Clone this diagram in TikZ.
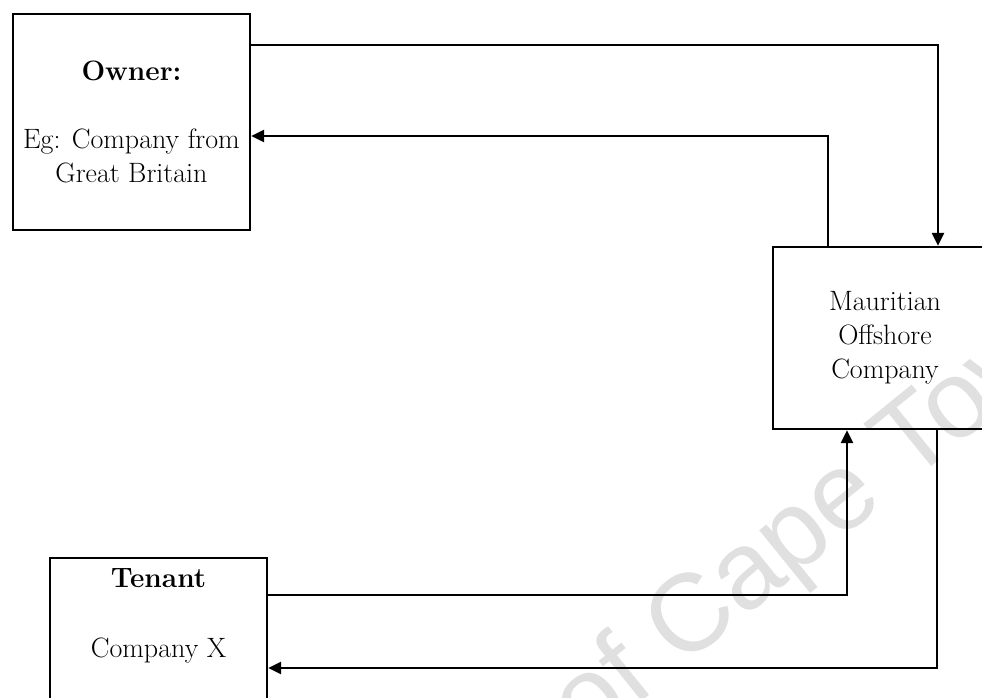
\documentclass[tikz,border=0pt]{standalone}
\usepackage{fontspec}
\newfontfamily\wmfont{Liberation Sans}
\usetikzlibrary{arrows.meta}
\begin{document}
\begin{tikzpicture}[x=1pt,y=-1pt,
  box/.style={draw, line width=2.3pt, inner sep=0pt, align=center,
    font=\fontsize{28}{34}\selectfont},
  lbl/.style={inner sep=0pt, align=center, font=\fontsize{28}{34}\selectfont},
  conn/.style={line width=2.3pt, -{Triangle[length=13pt,width=12pt]}},
  wm/.style={inner sep=0pt, text=black!12, font=\wmfont\fontsize{110}{110}\selectfont}]
\useasboundingbox (0,0) rectangle (982,698);
\clip (0,0) rectangle (982,698);
\node[wm, rotate=39] (wmark) at (830,512) {of Cape Town};
\node[box, minimum width=237pt, minimum height=216pt] (owner) at (131.5,122)
  {\textbf{Owner:}\\[34pt]Eg: Company from\\Great Britain};
\node[box, minimum width=224pt, minimum height=182pt] (maur) at (885,338)
  {Mauritian\\Offshore\\Company};
\node[box, minimum width=217pt, minimum height=200pt] (tenant) at (158.5,658) {};
\node[lbl] (tenanttext) at (158.5,616) {\textbf{Tenant}\\[36pt]Company X};
\coordinate (r1) at (938,45);
\coordinate (r2) at (828,136);
\coordinate (r3) at (847,595);
\coordinate (r4) at (937,668);
\draw[conn] (owner.east |- r1) -| (maur.north -| r1);
\draw[conn] (maur.north -| r2) |- (owner.east |- r2);
\draw[conn] (tenant.east |- r3) -| (maur.south -| r3);
\draw[conn] (maur.south -| r4) |- (tenant.east |- r4);
\end{tikzpicture}
\end{document}
